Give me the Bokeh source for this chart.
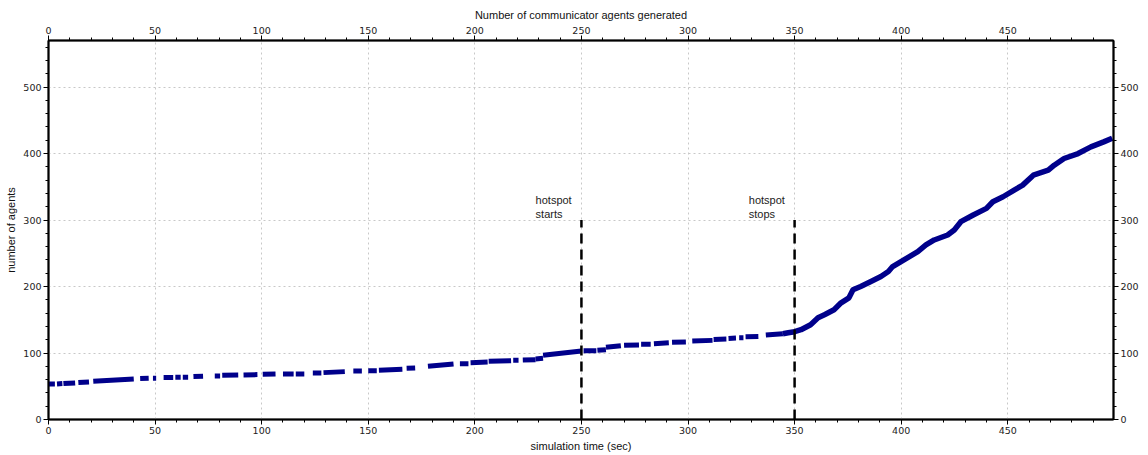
from bokeh.plotting import figure
from bokeh.models import LinearAxis, Range1d, SingleIntervalTicker
from bokeh.embed import file_html
from bokeh.resources import INLINE
from bokeh.core.properties import value

# ---- data (simulation time in sec, number of agents) ----
# sparse phase: runs of closely spaced agent events (start/end time, start/end count)
dash_t0 = [0, 4, 7, 14, 21, 43, 49, 54, 59.5, 63, 68, 78, 81.5, 91.5, 100.5, 110, 116, 124, 129,
           143, 150, 155, 168, 178, 193, 198, 206.5, 218, 222.5, 228.5, 232, 251, 257.5, 261.5,
           270, 278, 284, 292.5, 302, 312, 319, 324, 327, 336.5]
dash_t1 = [3, 6.5, 12.5, 19, 40, 47, 50.5, 58.5, 62, 65.5, 72.5, 80.5, 89, 98, 106.5, 115, 120,
           128, 139, 147, 154, 166, 172, 190, 197, 206, 217, 220.5, 228.5, 232, 250, 257, 261.5,
           268.5, 277, 282.5, 291, 299, 311.5, 318, 322.5, 326, 333, 344.5]
dash_n0 = [53.5, 53.5, 54, 55.5, 57.5, 61.5, 62, 63, 63.5, 63.5, 64.5, 65.5, 66.5, 67, 68, 68.5,
           68.5, 70, 70.5, 73, 73.5, 74, 77, 80, 84, 85.5, 87.5, 89, 89.5, 91, 96.5, 103.5, 104,
           108.5, 111.5, 113, 114, 116, 118, 120.5, 122, 123, 124.5, 127]
dash_n1 = [53.5, 54, 55, 56.5, 61, 62, 62, 63, 63.5, 63.5, 65, 65.5, 67, 67.5, 68.5, 68.5, 68.5,
           70, 72, 73, 73.5, 75.5, 77.5, 83.5, 84, 86.5, 88.5, 89, 90, 92, 103, 103.5, 105, 111,
           112, 113, 115.5, 116.5, 119, 121, 122.5, 123, 125, 129]

# dense phase after the hotspot
curve_t = [344.5, 347, 350, 353, 357.5, 361, 364, 368.5, 371.8, 375.5, 377.4, 381, 385.8, 390.5,
           394, 396, 401.3, 407.8, 411.6, 415.5, 421.8, 424.9, 428, 433.8, 440, 443, 447.8, 453,
           457, 462, 469, 471.8, 476.4, 483, 489, 495, 499]
curve_n = [129, 130.5, 132, 135, 142.5, 153, 157.5, 165, 175.5, 183, 195, 200, 207.5, 215,
           222.5, 230, 240, 252.5, 262.5, 270, 277.5, 285, 297.5, 307.5, 317.5, 327.5, 335, 345,
           352.5, 367.5, 375, 382.5, 392.5, 400, 410, 417.5, 423]

# hotspot markers
event_t = [250, 350]
event_top = [300, 300]
event_label = ["hotspot\nstarts", "hotspot\nstops"]
label_t = [228.5, 328.5]
label_n = [339, 339]

x_ticks_interval = 50
y_ticks_interval = 100

p = figure(frame_width=1065, frame_height=379,
           x_range=Range1d(0, 499.6), y_range=Range1d(0, 570),
           output_backend="svg", toolbar_location=None,
           min_border_left=48, min_border_right=30, min_border_top=40, min_border_bottom=30,
           background_fill_color="white", border_fill_color="white")
p.outline_line_color = "black"
p.outline_line_width = 1.5

bottom_axis = p.below[0]
left_axis = p.left[0]
top_axis = LinearAxis(axis_label="Number of communicator agents generated")
right_axis = LinearAxis()
p.add_layout(top_axis, "above")
p.add_layout(right_axis, "right")

bottom_axis.axis_label = "simulation time (sec)"
left_axis.axis_label = "number of agents"

for ax in [bottom_axis, top_axis]:
    ax.ticker = SingleIntervalTicker(interval=x_ticks_interval, num_minor_ticks=5)
for ax in [left_axis, right_axis]:
    ax.ticker = SingleIntervalTicker(interval=y_ticks_interval, num_minor_ticks=5)

for ax in [bottom_axis, top_axis, left_axis, right_axis]:
    ax.axis_line_color = "black"
    ax.axis_line_width = 2
    ax.major_tick_in = 0
    ax.major_tick_out = 5
    ax.minor_tick_in = 0
    ax.minor_tick_out = 3
    ax.major_tick_line_color = "black"
    ax.minor_tick_line_color = "black"
    ax.major_label_text_font = "DejaVu Sans"
    ax.major_label_text_font_size = "9.5px"
    ax.major_label_text_color = "#222222"
    ax.major_label_standoff = 2
    ax.axis_label_text_font = "Liberation Sans"
    ax.axis_label_text_font_size = "11px"
    ax.axis_label_text_font_style = "normal"
    ax.axis_label_text_color = "#111111"
    ax.axis_label_standoff = 3

p.xgrid.ticker = SingleIntervalTicker(interval=x_ticks_interval)
p.ygrid.ticker = SingleIntervalTicker(interval=y_ticks_interval)
for g in [p.xgrid, p.ygrid]:
    g.grid_line_color = "#c8c8c8"
    g.grid_line_dash = "2 3"
    g.grid_line_width = 1

navy = "#00008b"
p.segment(x0=dash_t0, y0=dash_n0, x1=dash_t1, y1=dash_n1,
          line_color=navy, line_width=5, line_cap="butt")
p.line(curve_t, curve_n, line_color=navy, line_width=5.5, line_join="round")

p.segment(x0=event_t, y0=[0, 0], x1=event_t, y1=event_top,
          line_color="black", line_width=2.5, line_dash="10 6")

p.text(x=label_t, y=label_n, text=event_label,
       text_font=value("Liberation Sans"), text_font_size="11px",
       text_baseline="top", text_align="left", text_color="#222222",
       text_line_height=1.15)

open("out.html", "w").write(file_html(p, INLINE))
